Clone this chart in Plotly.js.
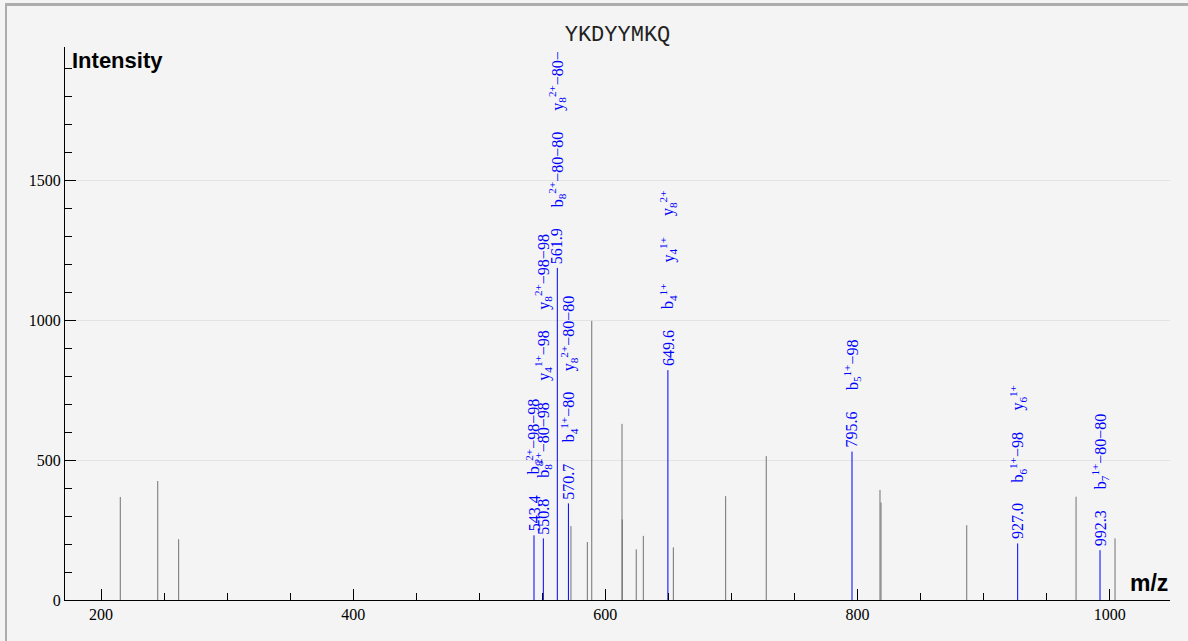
<!DOCTYPE html>
<html>
<head>
<meta charset="utf-8">
<script src="https://cdn.plot.ly/plotly-3.0.1.min.js"></script>
<style>
  html, body { margin: 0; padding: 0; background: #f4f4f4; }
  #chart { position: absolute; left: 0; top: 0; width: 1188px; height: 641px; }
  #frame { position: absolute; left: 5px; top: 3px; right: 0; bottom: 0;
           border-top: 3px solid #adadad; border-left: 2px solid #adadad; pointer-events: none; }
</style>
</head>
<body>
<div id="chart"></div>
<div id="frame"></div>
<script>
// ---- data ----
const peptide = "YKDYYMKQ";

// unannotated peaks (m/z, intensity)
const grayMz  = [215.3, 245.0, 261.6, 572.7, 585.7, 589.2, 613.2, 613.4, 624.5, 630.1, 653.9,
                 695.4, 727.6, 817.8, 818.6, 886.6, 973.3, 1004.2];
const grayInt = [368, 425, 217, 264, 207, 997, 629, 288, 181, 229, 188,
                 371, 514, 393, 348, 267, 369, 220];

// annotated peaks
const blueMz  = [543.4, 550.8, 561.9, 570.7, 649.6, 795.6, 927.0, 992.3];
const blueInt = [231, 220, 1186, 345, 821, 530, 202, 178];
const blueLabels = [
  ["b_8^{2+}−98−98"],
  ["b_8^{2+}−80−98", "y_4^{1+}−98", "y_8^{2+}−98−98"],
  ["b_8^{2+}−80−80", "y_8^{2+}−80−"],
  ["b_4^{1+}−80", "y_8^{2+}−80−80"],
  ["b_4^{1+}", "y_4^{1+}", "y_8^{2+}"],
  ["b_5^{1+}−98"],
  ["b_6^{1+}−98", "y_6^{1+}"],
  ["b_7^{1+}−80−80"]
];

// ---- build ----
const LABEL_FONT = "Liberation Serif";
const LABEL_SIZE = 16;
const ctx = document.createElement("canvas").getContext("2d");
function tw(s, size) { ctx.font = size + "px '" + LABEL_FONT + "'"; return ctx.measureText(s).width; }

function parseLabel(l) {
  const m = l.match(/^([a-z])_(\d+)\^\{([^}]*)\}(.*)$/);
  if (!m) return { html: l, w: tw(l, LABEL_SIZE) };
  const html = m[1] + "<sub>" + m[2] + "</sub><sup>" + m[3] + "</sup>" + m[4];
  const w = tw(m[1], LABEL_SIZE) + tw(m[2], LABEL_SIZE * 0.7) + tw(m[3], LABEL_SIZE * 0.7) + tw(m[4], LABEL_SIZE);
  return { html, w };
}

function segs(xs, ys) {
  const X = [], Y = [];
  xs.forEach((x, i) => { X.push(x, x, null); Y.push(0, ys[i], null); });
  return { X, Y };
}
const g = segs(grayMz, grayInt);
const b = segs(blueMz, blueInt);

const traces = [
  { x: g.X, y: g.Y, mode: "lines", line: { color: "#727272", width: 1 }, hoverinfo: "skip", showlegend: false },
  { x: b.X, y: b.Y, mode: "lines", line: { color: "#0000ff", width: 1 }, hoverinfo: "skip", showlegend: false }
];

const annotations = [];
const GAP = 21;
blueMz.forEach((mz, i) => {
  const items = [{ html: mz.toFixed(1), w: tw(mz.toFixed(1), LABEL_SIZE) }].concat(blueLabels[i].map(parseLabel));
  let shift = 3;
  items.forEach(it => {
    annotations.push({
      x: mz, y: blueInt[i], xref: "x", yref: "y",
      text: it.html, textangle: -90, showarrow: false,
      xanchor: "center", yanchor: "bottom", yshift: shift, borderpad: 0,
      font: { family: LABEL_FONT, size: LABEL_SIZE, color: "#0000ff" }
    });
    shift += it.w + GAP;
  });
});

annotations.push({
  text: "<b>Intensity</b>", xref: "paper", yref: "paper", x: 0, y: 1,
  xanchor: "left", yanchor: "middle", xshift: 5, yshift: -13, showarrow: false,
  font: { family: "Liberation Sans", size: 22, color: "#000" }
});
annotations.push({
  text: "<b>m/z</b>", xref: "paper", yref: "paper", x: 1, y: 0,
  xanchor: "right", yanchor: "bottom", xshift: 0, yshift: 2, showarrow: false,
  font: { family: "Liberation Sans", size: 23, color: "#000" }
});

const layout = {
  width: 1188, height: 641,
  paper_bgcolor: "#f4f4f4", plot_bgcolor: "#f4f4f4",
  margin: { l: 65, r: 18, t: 47, b: 41 },
  title: {
    text: peptide, x: 0.5, xref: "paper", y: 1 - 33 / 641, yref: "container",
    xanchor: "center", yanchor: "middle",
    font: { family: "'Courier New', 'Liberation Mono', monospace", size: 22, color: "#222" }
  },
  xaxis: {
    range: [171.45, 1047.8], showgrid: false, zeroline: false,
    showline: true, linecolor: "#000", linewidth: 1,
    ticks: "inside", ticklen: 11, tickcolor: "#000", tickwidth: 1,
    tick0: 0, dtick: 200,
    minor: { dtick: 50, tick0: 0, ticks: "inside", ticklen: 7, tickcolor: "#000", showgrid: false },
    tickfont: { family: "Liberation Serif", size: 16, color: "#000" }
  },
  yaxis: {
    range: [0, 1975], showgrid: true, gridcolor: "#e3e3e3", gridwidth: 1, zeroline: false,
    showline: true, linecolor: "#000", linewidth: 1,
    ticks: "inside", ticklen: 11, tickcolor: "#000", tickwidth: 1,
    tick0: 0, dtick: 500,
    minor: { dtick: 100, tick0: 0, ticks: "inside", ticklen: 7, tickcolor: "#000", showgrid: false },
    tickfont: { family: "Liberation Serif", size: 16, color: "#000" }
  },
  annotations
};

Plotly.newPlot("chart", traces, layout, { staticPlot: true, displayModeBar: false });
</script>
</body>
</html>
